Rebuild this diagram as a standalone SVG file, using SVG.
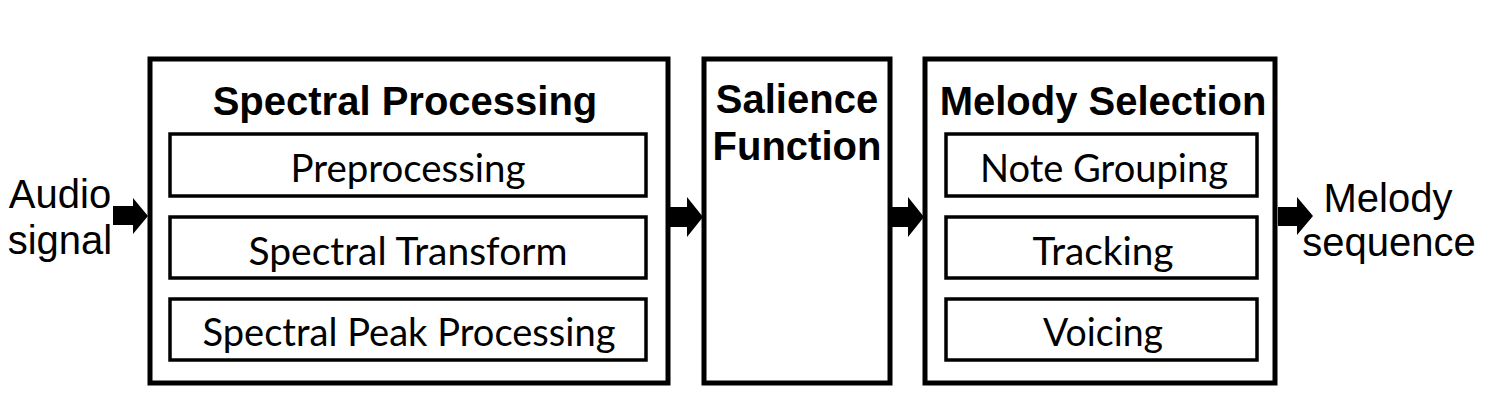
<svg xmlns="http://www.w3.org/2000/svg" width="1505" height="405" viewBox="0 0 1505 405">
<style>
.outer{fill:#fff;stroke:#000;stroke-width:5}
.inner{fill:#fff;stroke:#000;stroke-width:3.5}
.title{font-family:"Liberation Sans",Arial,sans-serif;font-weight:bold;font-size:40px;text-anchor:middle;fill:#000}
.lbl{font-family:"Liberation Sans",Arial,sans-serif;font-size:40px;text-anchor:middle;fill:#000}
.sub{font-family:Lato,"Open Sans",sans-serif;font-size:38px;text-anchor:middle;fill:#000}
.arr{fill:#000}
</style>
<rect width="1505" height="405" fill="#fff"/>
<g id="audio-signal">
<text class="lbl" x="60" y="208">Audio</text>
<text class="lbl" x="60" y="254">signal</text>
</g>
<g id="spectral-processing">
<rect class="outer" x="150" y="59" width="518" height="324"/>
<text class="title" x="405" y="115">Spectral Processing</text>
<rect class="inner" x="170" y="134" width="476" height="62"/>
<text class="sub" x="408" y="182" textLength="235" lengthAdjust="spacingAndGlyphs">Preprocessing</text>
<rect class="inner" x="170" y="217" width="476" height="61"/>
<text class="sub" x="408" y="265" textLength="319" lengthAdjust="spacingAndGlyphs">Spectral Transform</text>
<rect class="inner" x="170" y="299" width="476" height="61"/>
<text class="sub" x="409" y="346" textLength="413" lengthAdjust="spacingAndGlyphs">Spectral Peak Processing</text>
</g>
<g id="salience-function">
<rect class="outer" x="704" y="59" width="186" height="324"/>
<text class="title" x="797" y="113">Salience</text>
<text class="title" x="797" y="160">Function</text>
</g>
<g id="melody-selection">
<rect class="outer" x="925" y="59" width="350" height="324"/>
<text class="title" x="1103" y="115">Melody Selection</text>
<rect class="inner" x="946" y="134" width="311" height="62"/>
<text class="sub" x="1104" y="182" textLength="248" lengthAdjust="spacingAndGlyphs">Note Grouping</text>
<rect class="inner" x="946" y="217" width="311" height="61"/>
<text class="sub" x="1103" y="265" textLength="141" lengthAdjust="spacingAndGlyphs">Tracking</text>
<rect class="inner" x="946" y="299" width="311" height="61"/>
<text class="sub" x="1103" y="346" textLength="120" lengthAdjust="spacingAndGlyphs">Voicing</text>
</g>
<g id="melody-sequence">
<text class="lbl" x="1388" y="212">Melody</text>
<text class="lbl" x="1389" y="256">sequence</text>
</g>
<g id="connectors">
<path class="arr" d="M113,206 H133 V198 L148,216 L133,234 V225 H113 Z"/>
<path class="arr" d="M670,207 H687 V197 L703,217 L687,237 V227 H670 Z"/>
<path class="arr" d="M892,207 H908 V197 L924,217 L908,237 V227 H892 Z"/>
<path class="arr" d="M1278,207 H1297 V197 L1313,216 L1297,235 V226 H1278 Z"/>
</g>
</svg>
